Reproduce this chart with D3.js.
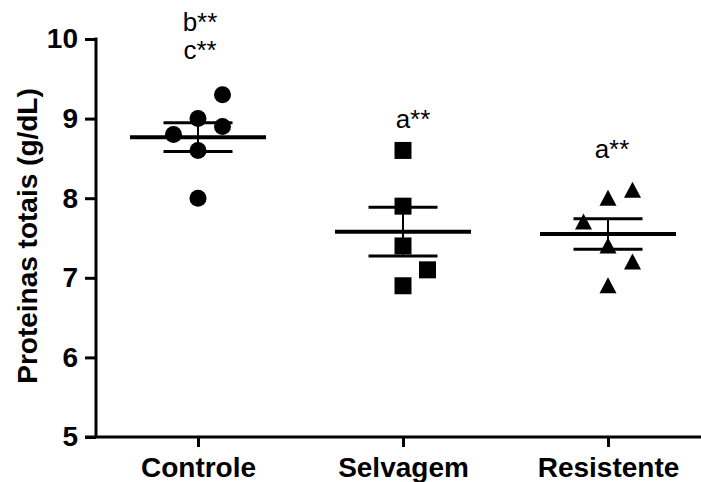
<!DOCTYPE html>
<html>
<head>
<meta charset="utf-8">
<script src="https://cdn.jsdelivr.net/npm/d3@7"></script>
<style>
  body { margin: 0; background: #fff; }
  svg text { font-family: Arial, "Liberation Sans", sans-serif; }
</style>
</head>
<body>
<script>
// groups shown on the x axis
const groups = ["Controle", "Selvagem", "Resistente"];

// individual values per group (g/dL)
const controle = [9.3, 9.0, 8.9, 8.8, 8.6, 8.0];
const selvagem = [8.6, 7.9, 7.4, 7.1, 6.9];
const resistente = [8.1, 8.0, 7.7, 7.4, 7.2, 6.9];

// column slot of each point inside its group (-1 left, 0 centre, 1 right)
const controleCols = [1, 0, 1, -1, 0, 0];
const selvagemCols = [0, 0, 0, 1, 0];
const resistenteCols = [1, 0, -1, 0, 1, 0];

// significance letters above each group, with the level (g/dL) of their baseline
const letters = [["b**", "c**"], ["a**"], ["a**"]];
const letterLevels = [[10.1, 9.75], [8.88], [8.5]];

const yTicks = [5, 6, 7, 8, 9, 10];

const values = [controle, selvagem, resistente];
const cols = [controleCols, selvagemCols, resistenteCols];
const shapes = ["circle", "square", "triangle"];

const width = 701, height = 482;

const svg = d3.select("body")
    .append("svg")
        .attr("width", width)
        .attr("height", height);

let x = d3.scalePoint()
    .domain(groups)
    .range([198, 608]);

let y = d3.scaleLinear()
    .domain([5, 10])
    .range([437, 39]);

// horizontal spread of the jittered points
let jitter = d3.scaleLinear()
    .domain([-1, 1])
    .range([-24.5, 24.5]);

// y axis
let yAxis = d3.axisLeft(y)
    .tickValues(yTicks)
    .tickSize(11)
    .tickPadding(7)
    .tickFormat(d3.format("d"));

let gy = svg.append("g")
    .attr("transform", "translate(96,0)")
    .call(yAxis);
gy.select(".domain").attr("stroke-width", 3).attr("d", `M0,${y(10) - 1.5}V${y(5)}`);
gy.selectAll(".tick line").attr("stroke-width", 3);
gy.selectAll(".tick text")
    .attr("font-size", 28)
    .attr("font-weight", "bold")
    .attr("fill", "#000");

// x axis, runs to the right edge
let xAxis = d3.axisBottom(x)
    .tickSize(10)
    .tickPadding(10)
    .tickSizeOuter(0);

let gx = svg.append("g")
    .attr("transform", `translate(0,${y(5)})`)
    .call(xAxis);
gx.select(".domain").attr("stroke-width", 3).attr("d", `M85,0H${width}`);
gx.selectAll(".tick line").attr("stroke-width", 3);
gx.selectAll(".tick text")
    .attr("font-size", 28)
    .attr("font-weight", "bold")
    .attr("fill", "#000");

// y title
svg.append("text")
    .attr("transform", "rotate(-90)")
    .attr("x", -236)
    .attr("y", 37)
    .attr("text-anchor", "middle")
    .attr("font-size", 28)
    .attr("font-weight", "bold")
    .text("Proteinas totais (g/dL)");

function shapePath(kind) {
    if (kind === "circle") return d3.symbol(d3.symbolCircle, Math.PI * 8.5 * 8.5)();
    if (kind === "square") return d3.symbol(d3.symbolSquare, 17 * 17)();
    return "M0,-8.5L8.5,7.5L-8.5,7.5Z";
}

groups.forEach((g, i) => {
    let vals = values[i];
    let cx = x(g);
    let mean = d3.mean(vals);
    let sem = d3.deviation(vals) / Math.sqrt(vals.length);

    let grp = svg.append("g").attr("class", "group");

    // points
    grp.selectAll("path.pt")
        .data(vals)
        .enter()
            .append("path")
            .attr("class", "pt")
            .attr("d", shapePath(shapes[i]))
            .attr("transform", (d, j) => `translate(${cx + jitter(cols[i][j])},${y(d)})`)
            .attr("fill", "#000");

    // mean and sem
    grp.append("line")
        .attr("x1", cx).attr("x2", cx)
        .attr("y1", y(mean + sem)).attr("y2", y(mean - sem))
        .attr("stroke", "#000").attr("stroke-width", 2);
    [mean + sem, mean - sem].forEach(v => {
        grp.append("line")
            .attr("x1", cx - 34.5).attr("x2", cx + 34.5)
            .attr("y1", y(v)).attr("y2", y(v))
            .attr("stroke", "#000").attr("stroke-width", 3);
    });
    grp.append("line")
        .attr("x1", cx - 68).attr("x2", cx + 68)
        .attr("y1", y(mean)).attr("y2", y(mean))
        .attr("stroke", "#000").attr("stroke-width", 4);

    // letters
    letters[i].forEach((t, k) => {
        grp.append("text")
            .attr("x", cx + (i === 0 ? 2 : i === 1 ? 10 : 4))
            .attr("y", y(letterLevels[i][k]))
            .attr("text-anchor", "middle")
            .attr("font-size", 26)
            .text(t);
    });
});
</script>
</body>
</html>
